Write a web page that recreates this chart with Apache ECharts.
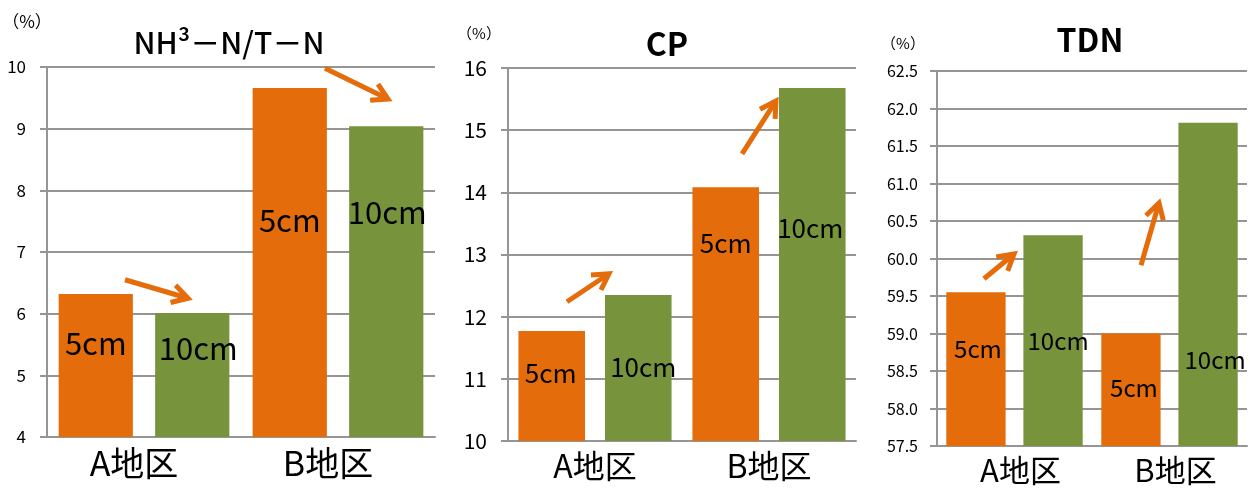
<!DOCTYPE html>
<html>
<head>
<meta charset="utf-8">
<script src="https://cdn.jsdelivr.net/npm/echarts@6/dist/echarts.min.js"></script>
<style>
    html, body { margin: 0; padding: 0; background: #fff; }
    #main { width: 1250px; height: 489px; }
</style>
</head>
<body>
<div id="main"></div>
<script>
    // categories and series
    var categories = ['A地区', 'B地区'];
    var seriesNames = ['5cm', '10cm'];

    var nh3_5cm = [6.32, 9.66];
    var nh3_10cm = [6.01, 9.04];
    var cp_5cm = [11.77, 14.08];
    var cp_10cm = [12.35, 15.68];
    var tdn_5cm = [59.55, 59.0];
    var tdn_10cm = [60.31, 61.81];

    // y tick labels
    var nh3Ticks = [4, 5, 6, 7, 8, 9, 10];
    var cpTicks = [10, 11, 12, 13, 14, 15, 16];
    var tdnTicks = [57.5, 58.0, 58.5, 59.0, 59.5, 60.0, 60.5, 61.0, 61.5, 62.0, 62.5];

    // arrows: [from, to] as [category index offset, value]
    var nh3Arrows = [[[-0.098, 6.55], [0.227, 6.25]], [[0.933, 9.98], [1.258, 9.48]]];
    var cpArrows = [[[-0.161, 12.24], [0.080, 12.69]], [[0.845, 14.62], [1.040, 15.47]]];
    var tdnArrows = [[[-0.197, 59.73], [-0.003, 60.06]], [[0.816, 59.91], [0.932, 60.74]]];

    var ORANGE = '#E46C0A', GREEN = '#77933C', LINE = '#959595';
    var FONT = '"Noto Sans CJK JP", "Noto Sans", sans-serif';

    var panels = [
        {
            title: 'NH³－N/T－N', titleWeight: 500, titleSize: 30, titleX: 229, titleY: 43,
            unitX: 27, unitY: 22, unitSize: 17,
            grid: {left: 47, top: 67, width: 388, height: 370},
            ticks: nh3Ticks, digits: 0, tickSize: 17, tickMargin: 21, catSize: 34, catShift: 20, labelSize: 31,
            s5: nh3_5cm, s10: nh3_10cm, arrows: nh3Arrows,
            lab5: [[0, 49], [0, 132]], lab10: [[6, 35], [1, 86]]
        },
        {
            title: 'CP', titleWeight: 'bold', titleSize: 32, titleX: 667, titleY: 44,
            unitX: 479, unitY: 33, unitSize: 15,
            grid: {left: 508, top: 68, width: 348, height: 373},
            ticks: cpTicks, digits: 0, tickSize: 21, tickMargin: 21, catSize: 32, catShift: 0, labelSize: 26,
            s5: cp_5cm, s10: cp_10cm, arrows: cpArrows,
            lab5: [[-1, 42], [0, 56]], lab10: [[5, 72], [-2, 140]]
        },
        {
            title: 'TDN', titleWeight: 'bold', titleSize: 32, titleX: 1090, titleY: 40,
            unitX: 903, unitY: 43, unitSize: 15,
            grid: {left: 937, top: 71, width: 310, height: 375},
            ticks: tdnTicks, digits: 1, tickSize: 16, tickMargin: 19, catSize: 31, catShift: -12, labelSize: 24,
            s5: tdn_5cm, s10: tdn_10cm, arrows: tdnArrows,
            lab5: [[2, 57], [3, 54]], lab10: [[5, 106], [7, 237]]
        }
    ];

    var chart = echarts.init(document.getElementById('main'));
    var option = {
        animation: false,
        textStyle: {fontFamily: FONT},
        grid: [], xAxis: [], yAxis: [], series: []
    };

    panels.forEach(function (p, i) {
        option.grid.push({
            left: p.grid.left, top: p.grid.top, width: p.grid.width, height: p.grid.height,
            containLabel: false, outerBoundsMode: 'none'
        });
        option.xAxis.push({
            gridIndex: i,
            type: 'category',
            data: categories,
            axisLine: {show: true, lineStyle: {color: LINE, width: 2}},
            axisTick: {show: false},
            axisLabel: {
                fontSize: p.catSize, color: '#000', margin: 9, fontFamily: FONT,
                // nudge sideways like the original text placement
                padding: p.catShift >= 0 ? [0, p.catShift, 0, 0] : [0, 0, 0, -p.catShift]
            }
        });
        option.yAxis.push({
            gridIndex: i,
            type: 'value',
            min: p.ticks[0],
            max: p.ticks[p.ticks.length - 1],
            interval: p.ticks[1] - p.ticks[0],
            axisLine: {show: true, lineStyle: {color: LINE, width: 2}},
            axisTick: {show: true, length: 7, lineStyle: {color: LINE, width: 2}},
            splitLine: {show: true, lineStyle: {color: LINE, width: 2}},
            axisLabel: {
                fontSize: p.tickSize, color: '#000', margin: p.tickMargin, fontFamily: FONT,
                formatter: function (v) { return v.toFixed(p.digits); }
            }
        });
        [p.s5, p.s10].forEach(function (vals, k) {
            var pos = k === 0 ? p.lab5 : p.lab10;
            option.series.push({
                type: 'bar',
                name: seriesNames[k],
                xAxisIndex: i,
                yAxisIndex: i,
                barGap: '30%',
                barCategoryGap: '12%',
                itemStyle: {color: k === 0 ? ORANGE : GREEN},
                label: {
                    show: true, formatter: seriesNames[k], color: '#000',
                    fontSize: p.labelSize, fontFamily: FONT, align: 'center', verticalAlign: 'middle'
                },
                data: vals.map(function (v, j) {
                    return {value: v, label: {position: ['50%', pos[j][1]], offset: [pos[j][0], 0]}};
                })
            });
        });
    });

    chart.setOption(option);

    function toPx(i, pt) {
        var p0 = chart.convertToPixel({gridIndex: i}, [0, pt[1]]);
        var p1 = chart.convertToPixel({gridIndex: i}, [1, pt[1]]);
        return [p0[0] + pt[0] * (p1[0] - p0[0]), p0[1]];
    }

    var graphics = [];
    panels.forEach(function (p, i) {
        graphics.push({
            type: 'text', x: p.titleX, y: p.titleY,
            style: {text: p.title, fill: '#000', fontSize: p.titleSize, fontWeight: p.titleWeight,
                fontFamily: FONT, align: 'center', verticalAlign: 'middle'}
        });
        graphics.push({
            type: 'text', x: p.unitX, y: p.unitY,
            style: {text: '（%）', fill: '#000', fontSize: p.unitSize, fontFamily: FONT,
                align: 'center', verticalAlign: 'middle'}
        });
        p.arrows.forEach(function (a) {
            var s = toPx(i, a[0]), t = toPx(i, a[1]);
            var ang = Math.atan2(s[1] - t[1], s[0] - t[0]);
            var len = 18, half = Math.PI / 6;
            var a1 = [t[0] + len * Math.cos(ang + half), t[1] + len * Math.sin(ang + half)];
            var a2 = [t[0] + len * Math.cos(ang - half), t[1] + len * Math.sin(ang - half)];
            graphics.push({
                type: 'line', z: 10,
                shape: {x1: s[0], y1: s[1], x2: t[0], y2: t[1]},
                style: {stroke: ORANGE, lineWidth: 5}
            });
            graphics.push({
                type: 'polyline', z: 10,
                shape: {points: [a1, t, a2]},
                style: {stroke: ORANGE, lineWidth: 5, fill: null, lineJoin: 'miter'}
            });
        });
    });
    chart.setOption({graphic: graphics});
</script>
</body>
</html>
